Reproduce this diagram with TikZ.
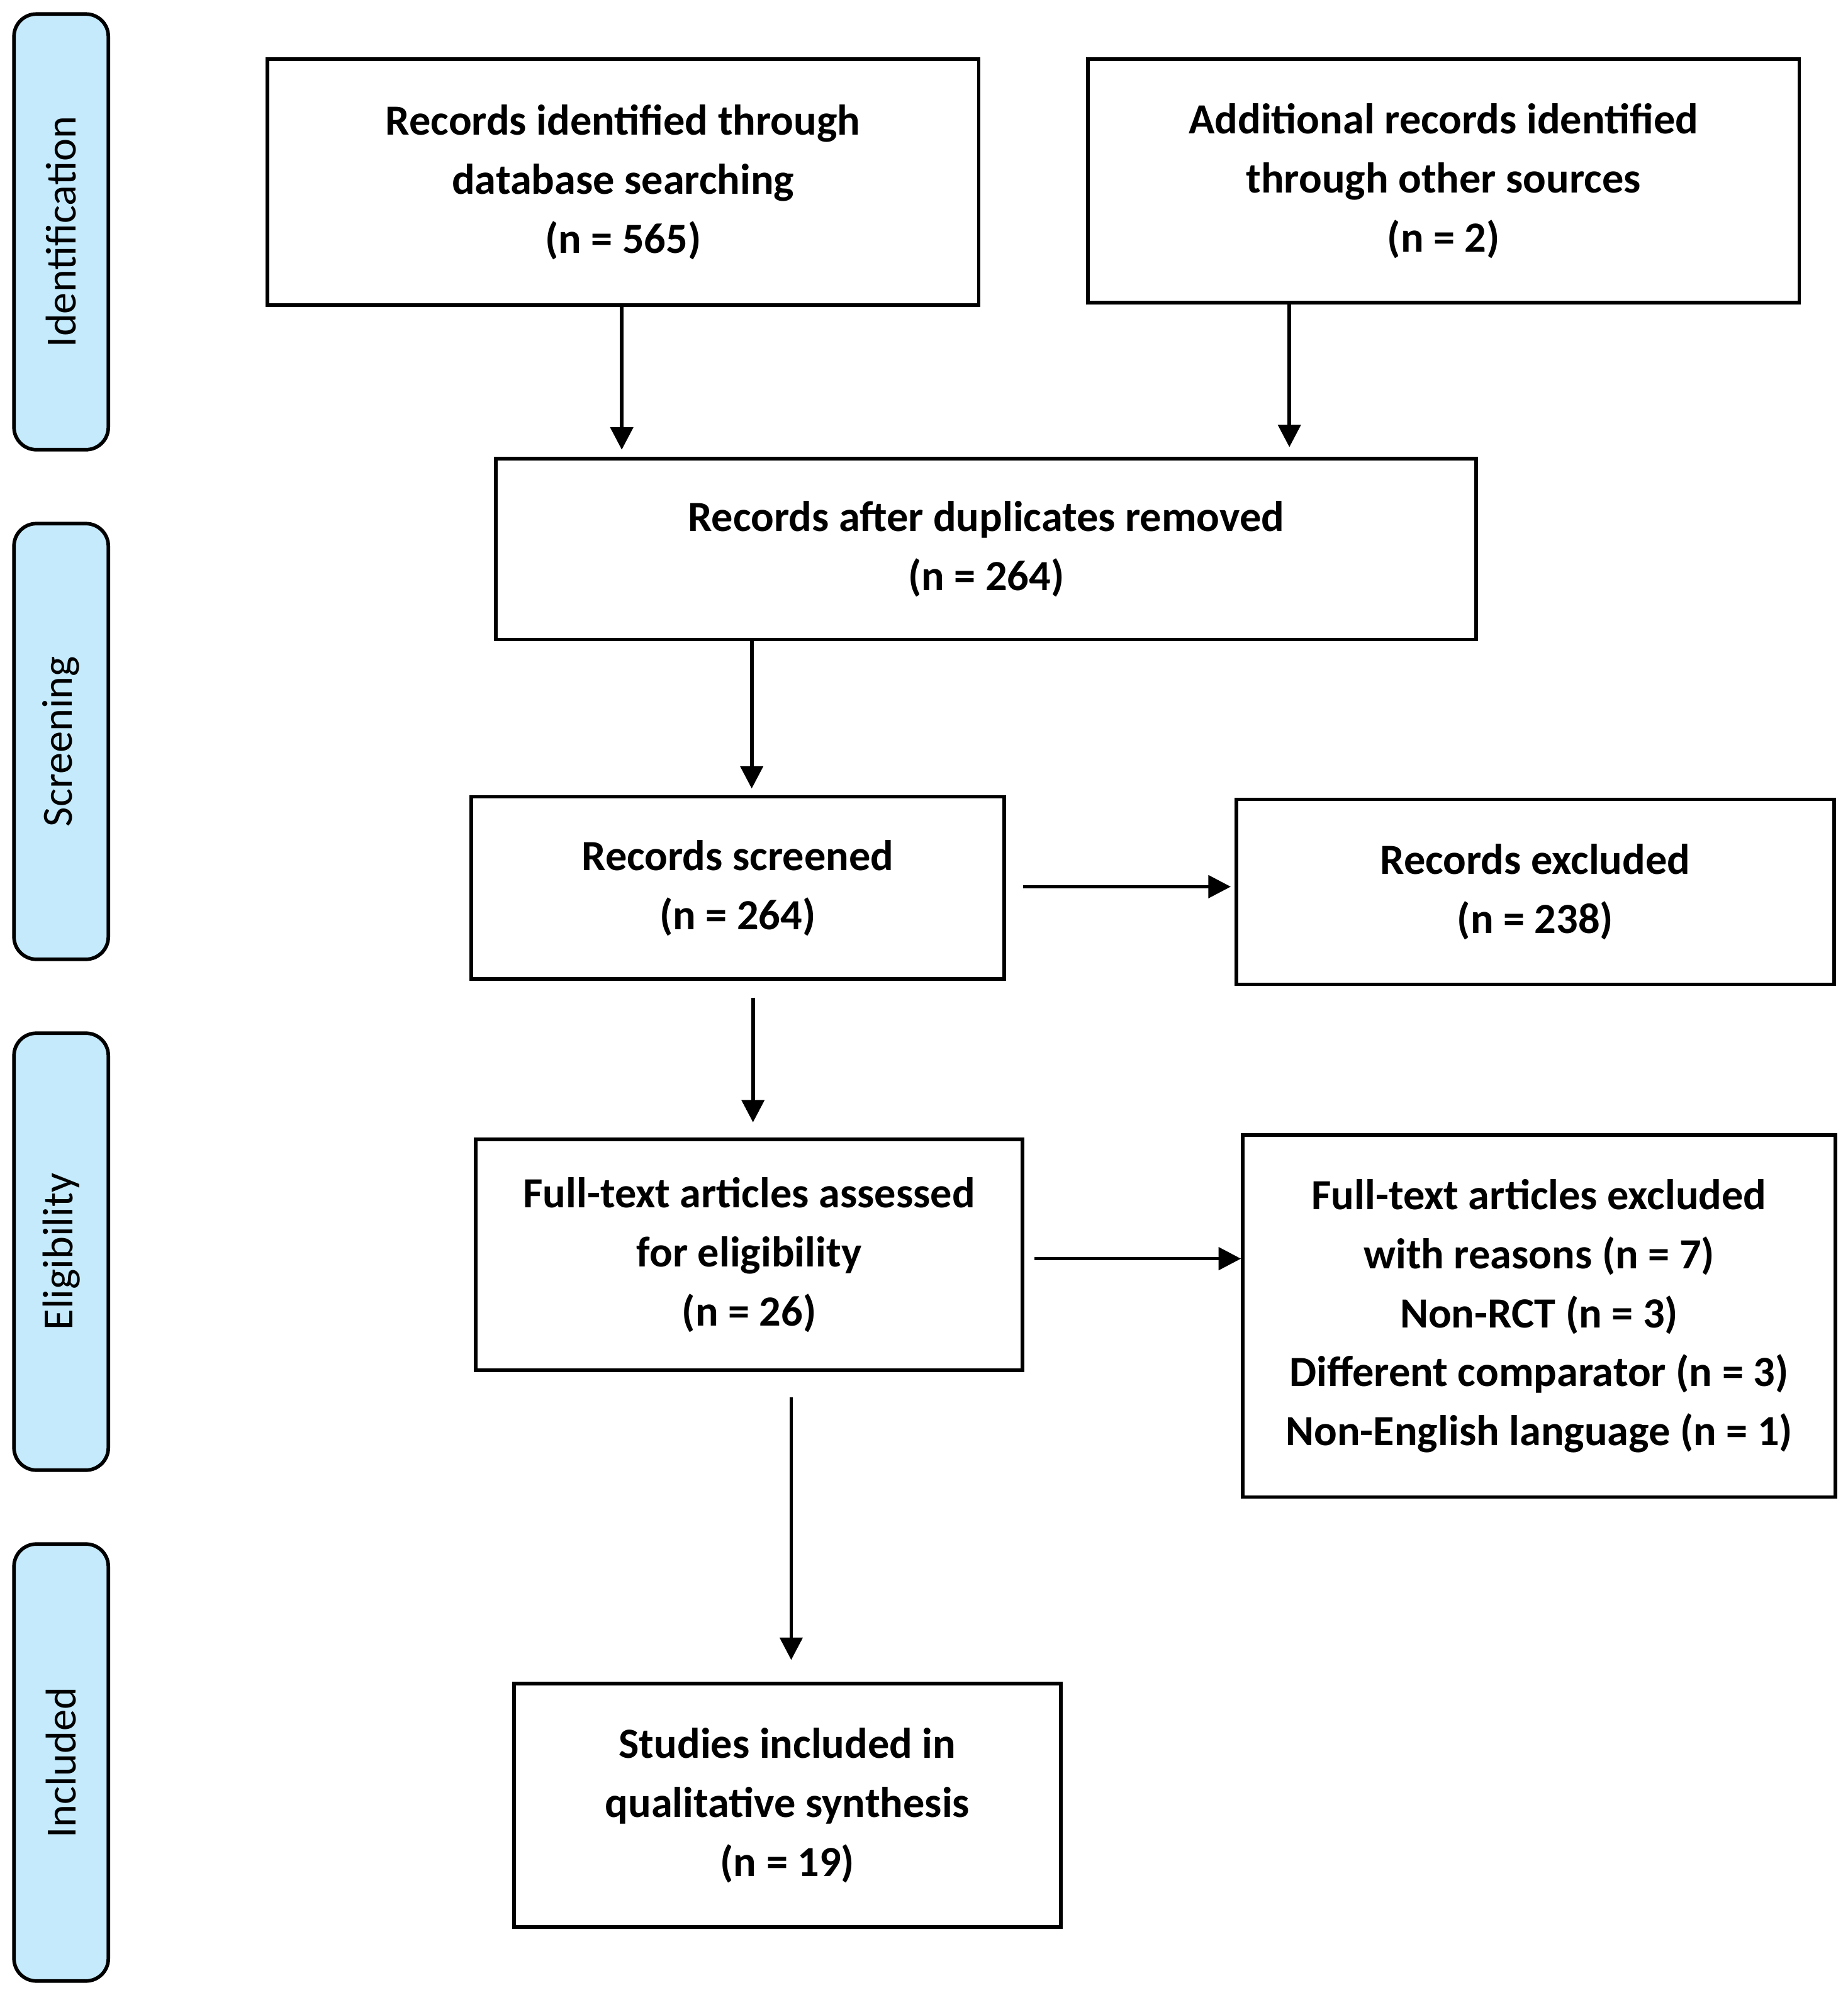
\documentclass[tikz,border=0pt]{standalone}
\usepackage{fontspec}
\setmainfont{Carlito}
\usetikzlibrary{arrows.meta}
\definecolor{stagebg}{HTML}{C4EAFB}
\tikzset{
  box/.style={draw,line width=0.8pt,align=center,inner sep=0pt,font=\bfseries\fontsize{9.6}{13.2}\selectfont},
  stage/.style={draw,line width=0.8pt,fill=stagebg,rounded corners=5pt,minimum width=0.74cm,font=\fontsize{9.6}{12}\selectfont},
  arr/.style={-{Triangle[length=5pt,width=5pt]},line width=0.8pt}
}
\begin{document}
\begin{tikzpicture}[x=0.01cm,y=-0.01cm]
\useasboundingbox (0,0) rectangle (1450,1566);
% stage bars
\foreach \name/\ya/\yb in {Identification/11/353,Screening/411/753,Eligibility/811/1154,Included/1212/1555}{
  \node[stage,minimum height={(\yb-\ya)*0.01cm}] (\name) at (48,{(\ya+\yb)/2}) {};
  \node[rotate=90,font=\fontsize{9.6}{12}\selectfont] at (\name) {\name};
}
% boxes
\node[box,minimum width=5.58cm,minimum height=1.93cm] (db) at (489,143) {Records identified through\\database searching\\(n = 565)};
\node[box,minimum width=5.58cm,minimum height=1.91cm] (other) at (1133,142) {Additional records identified\\through other sources\\(n = 2)};
\node[box,minimum width=7.69cm,minimum height=1.42cm] (dup) at (774,431) {Records after duplicates removed\\(n = 264)};
\node[box,minimum width=4.18cm,minimum height=1.43cm] (screen) at (579,697) {Records screened\\(n = 264)};
\node[box,minimum width=4.69cm,minimum height=1.45cm] (excl) at (1205,700) {Records excluded\\(n = 238)};
\node[box,minimum width=4.29cm,minimum height=1.81cm] (full) at (588,985) {Full-text articles assessed\\for eligibility\\(n = 26)};
\node[box,minimum width=4.65cm,minimum height=2.84cm] (fullex) at (1208,1033) {Full-text articles excluded\\with reasons (n = 7)\\Non-RCT (n = 3)\\Different comparator (n = 3)\\Non-English language (n = 1)};
\node[box,minimum width=4.29cm,minimum height=1.91cm] (incl) at (618,1417) {Studies included in\\qualitative synthesis\\(n = 19)};
% connectors
\coordinate (a1) at (488,240); \coordinate (a2) at (488,353);
\coordinate (b1) at (1012,238); \coordinate (b2) at (1012,351);
\coordinate (c1) at (590,502); \coordinate (c2) at (590,619);
\coordinate (d1) at (591,783); \coordinate (d2) at (591,881);
\coordinate (e1) at (803,696); \coordinate (e2) at (966,696);
\coordinate (f1) at (812,988); \coordinate (f2) at (974,988);
\coordinate (g1) at (621,1097); \coordinate (g2) at (621,1303);
\draw[arr] (a1) -- (a2);
\draw[arr] (b1) -- (b2);
\draw[arr] (c1) -- (c2);
\draw[arr] (d1) -- (d2);
\draw[arr] (e1) -- (e2);
\draw[arr] (f1) -- (f2);
\draw[arr] (g1) -- (g2);
\end{tikzpicture}
\end{document}
